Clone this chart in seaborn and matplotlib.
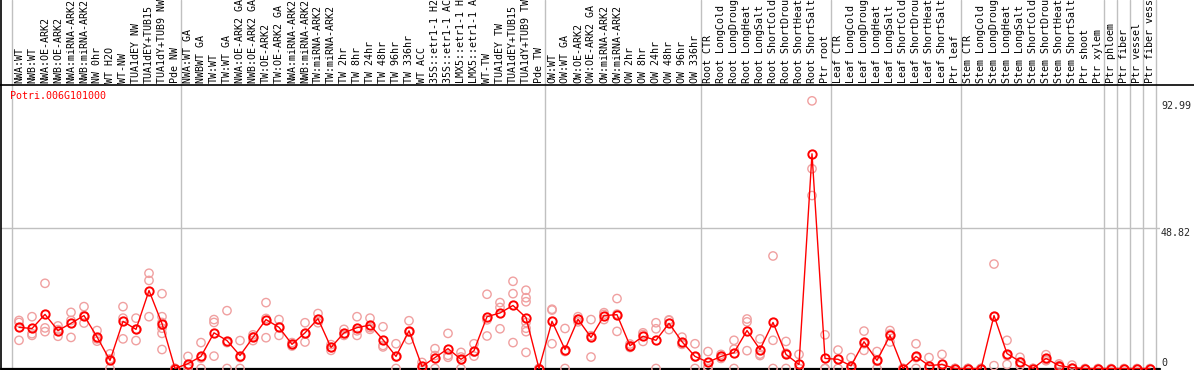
"""
Expression profile of one poplar gene across sample conditions
(eFP-style strip: replicate circles, mean line, grouped columns).
"""

import numpy as np
import pandas as pd
import matplotlib
matplotlib.use("Agg")
import matplotlib.pyplot as plt
import seaborn as sns

# =============================================================================
# Data
# =============================================================================

GENE = "Potri.006G101000"

SAMPLES = [
    "NWA:WT", "NWB:WT", "NWA:OE-ARK2", "NWB:OE-ARK2", "NWA:miRNA-ARK2",
    "NWB:miRNA-ARK2", "NW 0hr", "WT H2O", "WT-NW", "TUA1dEY NW",
    "TUA1dEY+TUB15", "TUA1dY+TUB9 NW", "Pde NW",
    "NWA:WT GA", "NWBWT GA", "TW:WT", "TW:WT GA", "NWA:OE-ARK2 GA",
    "NWB:OE-ARK2 GA", "TW:OE-ARK2", "TW:OE-ARK2 GA", "NWA:miRNA-ARK2",
    "NWB:miRNA-ARK2", "TW:miRNA-ARK2", "TW:miRNA-ARK2", "TW 2hr", "TW 8hr",
    "TW 24hr", "TW 48hr", "TW 96hr", "TW 336hr", "WT ACC", "35S::etr1-1 H2",
    "35S::etr1-1 AC", "LMX5::etr1-1 H", "LMX5::etr1-1 A", "WT-TW",
    "TUA1dEY TW", "TUA1dEY+TUB15", "TUA1dY+TUB9 TW", "Pde TW",
    "OW:WT", "OW:WT GA", "OW:OE-ARK2", "OW:OE-ARK2 GA", "OW:miRNA-ARK2",
    "OW:miRNA-ARK2", "OW 2hr", "OW 8hr", "OW 24hr", "OW 48hr", "OW 96hr",
    "OW 336hr",
    "Root CTR", "Root LongCold", "Root LongDroug", "Root LongHeat",
    "Root LongSalt", "Root ShortCold", "Root ShortDrou", "Root ShortHeat",
    "Root ShortSalt", "Ptr root",
    "Leaf CTR", "Leaf LongCold", "Leaf LongDroug", "Leaf LongHeat",
    "Leaf LongSalt", "Leaf ShortCold", "Leaf ShortDrou", "Leaf ShortHeat",
    "Leaf ShortSalt", "Ptr leaf",
    "Stem CTR", "Stem LongCold", "Stem LongDroug", "Stem LongHeat",
    "Stem LongSalt", "Stem ShortCold", "Stem ShortDrou", "Stem ShortHeat",
    "Stem ShortSalt", "Ptr shoot", "Ptr xylem",
    "Ptr phloem", "Ptr fiber", "Ptr vessel", "Ptr fiber vess",
]

# number of columns in each block between the grey separators
GROUP_SIZES = [13, 28, 12, 10, 10, 11, 1, 1, 1, 1]

MEANS = [
    14.3, 13.9, 18.8, 13.2, 15.7, 18.4, 11.0, 2.8, 16.4, 13.6, 27.1, 15.6, 0,
    1.7, 4.2, 12.4, 9.7, 4.5, 10.8, 17.0, 14.3, 8.4, 12.4, 17.3, 7.3, 12.4,
    14.2, 15.1, 10.0, 4.2, 13.1, 0.7, 3.8, 6.9, 3.2, 6.2, 18.0, 19.3, 21.9,
    17.7, 0,
    16.4, 6.6, 17.1, 10.8, 18.4, 18.7, 7.9, 11.2, 9.8, 15.7, 9.3, 4.2,
    2.2, 4.2, 5.5, 13.2, 6.6, 16.0, 4.9, 1.4, 74.6, 3.5,
    3.2, 0.9, 9.3, 2.8, 11.5, 0, 4.2, 1.0, 1.4, 0,
    0, 0, 18.4, 5.2, 2.4, 0, 3.5, 1.0, 0.3, 0, 0,
    0, 0, 0, 0,
]

REPLICATES = [
    [16.7, 16.0, 9.8], [18.0, 12.1, 11.5], [29.6, 14.1, 12.8],
    [14.8, 13.5, 11.2], [19.5, 16.7, 10.8], [21.5, 18.4, 15.8],
    [13.2, 10.3, 9.5], [5.1, 3.3, 0], [21.5, 17.5, 10.3], [17.5, 13.6, 9.7],
    [33.1, 30.6, 18.0], [26.0, 18.0, 16.0, 14.0, 12.2, 6.6], [0, 0, 0],
    [4.2, 0.9, 0], [9.0, 3.6, 0], [17.0, 16.0, 4.3], [20.1, 9.0, 0],
    [9.7, 3.8, 0], [11.7, 11.0, 9.7], [22.9, 17.4, 10.7], [17.0, 14.4, 11.5],
    [9.0, 8.4, 7.8], [15.9, 12.1, 9.2], [19.1, 17.0, 15.9], [8.3, 7.3, 6.3],
    [13.6, 12.1, 11.5], [18.0, 13.1, 11.5], [17.5, 14.2, 13.6],
    [14.5, 8.0, 7.5], [8.6, 4.0, 0], [16.6, 12.7, 10.0], [2.1, 0, 0],
    [6.9, 4.5, 0], [12.2, 4.6, 3.9], [5.6, 4.0, 0], [8.6, 5.7, 4.3],
    [25.8, 16.9, 11.3], [22.9, 21.2, 13.8], [30.3, 26.0, 9.0],
    [27.2, 24.6, 23.2, 16.0, 14.0, 12.8, 5.6], [0, 0, 0],
    [20.6, 20.3, 8.6], [13.9, 5.9, 0], [18.0, 17.1, 16.2], [17.0, 11.4, 4.0],
    [19.4, 18.8, 17.0], [24.3, 18.9, 12.9], [8.5, 7.9, 7.3],
    [12.4, 11.8, 9.4], [15.9, 13.8, 0], [16.9, 16.7, 13.5],
    [10.9, 8.6, 8.4], [8.6, 4.0, 0],
    [5.9, 0.7, 0], [4.9, 4.2, 3.5], [9.8, 6.7, 0], [17.2, 16.2, 6.2],
    [10.3, 5.0, 4.5], [39.1, 9.8, 0], [9.4, 5.3, 0], [4.9, 0, 0],
    [93.0, 69.4, 60.1], [11.7, 0, 0],
    [6.4, 3.2, 0], [3.8, 0, 0], [13.0, 8.6, 6.3], [5.9, 2.5, 0],
    [13.2, 12.0, 9.2], [0, 0, 0], [8.6, 3.8, 0], [3.8, 0, 0], [4.9, 0, 0],
    [0, 0, 0],
    [0, 0, 0], [0, 0, 0], [36.3, 18.0, 1.0], [9.8, 4.5, 1.4],
    [3.9, 2.3, 1.0], [0, 0, 0], [4.8, 3.0, 2.7], [1.6, 1.0, 0.4],
    [1.2, 0, 0], [0], [0],
    [0], [0], [0], [0],
]

Y_TICKS = [0, 48.82, 92.99]

# =============================================================================
# Layout (pixel geometry of the original strip)
# =============================================================================

W, H = 1194, 370
DPI = 100

LABEL_BOTTOM = 85      # y pixel of the black rule under the column labels
ZERO_Y = 368.5         # y pixel of value 0
GRID_Y = 228           # y pixel of the 48.82 grid line
X0, STEP = 19, 13      # first column centre and column spacing (px)
AX_LEFT, AX_RIGHT = 1, 1160

RED = "#ff0000"
PALE = "#f0a0a0"
GREY = "#c0c0c0"
FONT = ["DejaVu Sans Mono"]
FS = 7.2


def main():

    sns.set_style("white")
    plt.rcParams["font.family"] = FONT

    fig = plt.figure(figsize=(W / DPI, H / DPI), dpi=DPI)

    ax = fig.add_axes([
        AX_LEFT / W,
        (H - ZERO_Y) / H,
        (AX_RIGHT - AX_LEFT) / W,
        (ZERO_Y - LABEL_BOTTOM) / H,
    ])
    ax_lab = fig.add_axes([
        AX_LEFT / W,
        (H - LABEL_BOTTOM) / H,
        (AX_RIGHT - AX_LEFT) / W,
        LABEL_BOTTOM / H,
    ])

    positions = np.arange(len(SAMPLES))

    xlim = ((AX_LEFT - X0) / STEP, (AX_RIGHT - X0) / STEP)
    scale = (ZERO_Y - GRID_Y) / Y_TICKS[1]
    ymax = (ZERO_Y - LABEL_BOTTOM) / scale

    for a in (ax, ax_lab):
        a.set_xlim(*xlim)
        a.set_xticks([])
        a.set_yticks([])
        for side in ("top", "right", "bottom"):
            a.spines[side].set_visible(False)
        a.spines["left"].set_color("black")
        a.spines["left"].set_linewidth(1.2)
        a.patch.set_alpha(0)

    ax.set_ylim(0, ymax)
    ax_lab.set_ylim(0, 1)

    # -------------------------------------------------------------------------
    # Grid: group separators and the middle value line
    # -------------------------------------------------------------------------

    breaks = np.concatenate([[0], np.cumsum(GROUP_SIZES)]) - 0.5
    for b in breaks:
        ax.axvline(b, color=GREY, lw=1, zorder=0)
        ax_lab.axvline(b, color=GREY, lw=1, zorder=0)

    ax.axhline(Y_TICKS[1], color=GREY, lw=1, zorder=0)

    # -------------------------------------------------------------------------
    # Replicates and mean line
    # -------------------------------------------------------------------------

    rep_df = pd.DataFrame(
        [
            {"pos": i, "value": v}
            for i, reps in enumerate(REPLICATES)
            for v in reps
        ]
    )

    sns.scatterplot(
        data=rep_df,
        x="pos",
        y="value",
        ax=ax,
        marker="o",
        s=36,
        color="none",
        edgecolor=PALE,
        linewidth=1.0,
        clip_on=False,
        zorder=2,
    )

    sns.lineplot(
        x=positions,
        y=MEANS,
        ax=ax,
        color=RED,
        lw=1,
        marker="o",
        markersize=6.0,
        markerfacecolor="none",
        markeredgecolor=RED,
        markeredgewidth=1.4,
        clip_on=False,
        zorder=3,
    )

    ax.set_xlabel("")
    ax.set_ylabel("")
    ax.set_xlim(*xlim)
    ax.set_ylim(0, ymax)

    # bottom rule
    ax.axhline(0, color="black", lw=1.6, zorder=1, clip_on=False)

    # -------------------------------------------------------------------------
    # Text
    # -------------------------------------------------------------------------

    for i, name in zip(positions, SAMPLES):
        ax_lab.text(
            i, 2 / LABEL_BOTTOM, name,
            rotation=90, ha="center", va="bottom",
            fontsize=FS, color="black", family=FONT,
        )

    ytrans = ax.get_yaxis_transform()
    label_x = (1161 - AX_LEFT) / (AX_RIGHT - AX_LEFT)
    ax.text(label_x, Y_TICKS[2], f"{Y_TICKS[2]:g}", transform=ytrans,
            ha="left", va="top", fontsize=FS, clip_on=False)
    ax.text(label_x, Y_TICKS[1], f"{Y_TICKS[1]:g}", transform=ytrans,
            ha="left", va="top", fontsize=FS, clip_on=False)
    ax.text(label_x, Y_TICKS[0], f"{Y_TICKS[0]:g}", transform=ytrans,
            ha="left", va="bottom", fontsize=FS, clip_on=False)

    fig.text(10 / W, 1 - 91 / H, GENE, color=RED, fontsize=FS,
             ha="left", va="top")

    # black rule under the label band, full width
    fig.add_artist(plt.Line2D([0, 1], [(H - LABEL_BOTTOM) / H] * 2,
                              color="black", lw=1.2,
                              transform=fig.transFigure))

    fig.savefig("out.png", dpi=DPI)
    plt.close(fig)


if __name__ == "__main__":
    main()
